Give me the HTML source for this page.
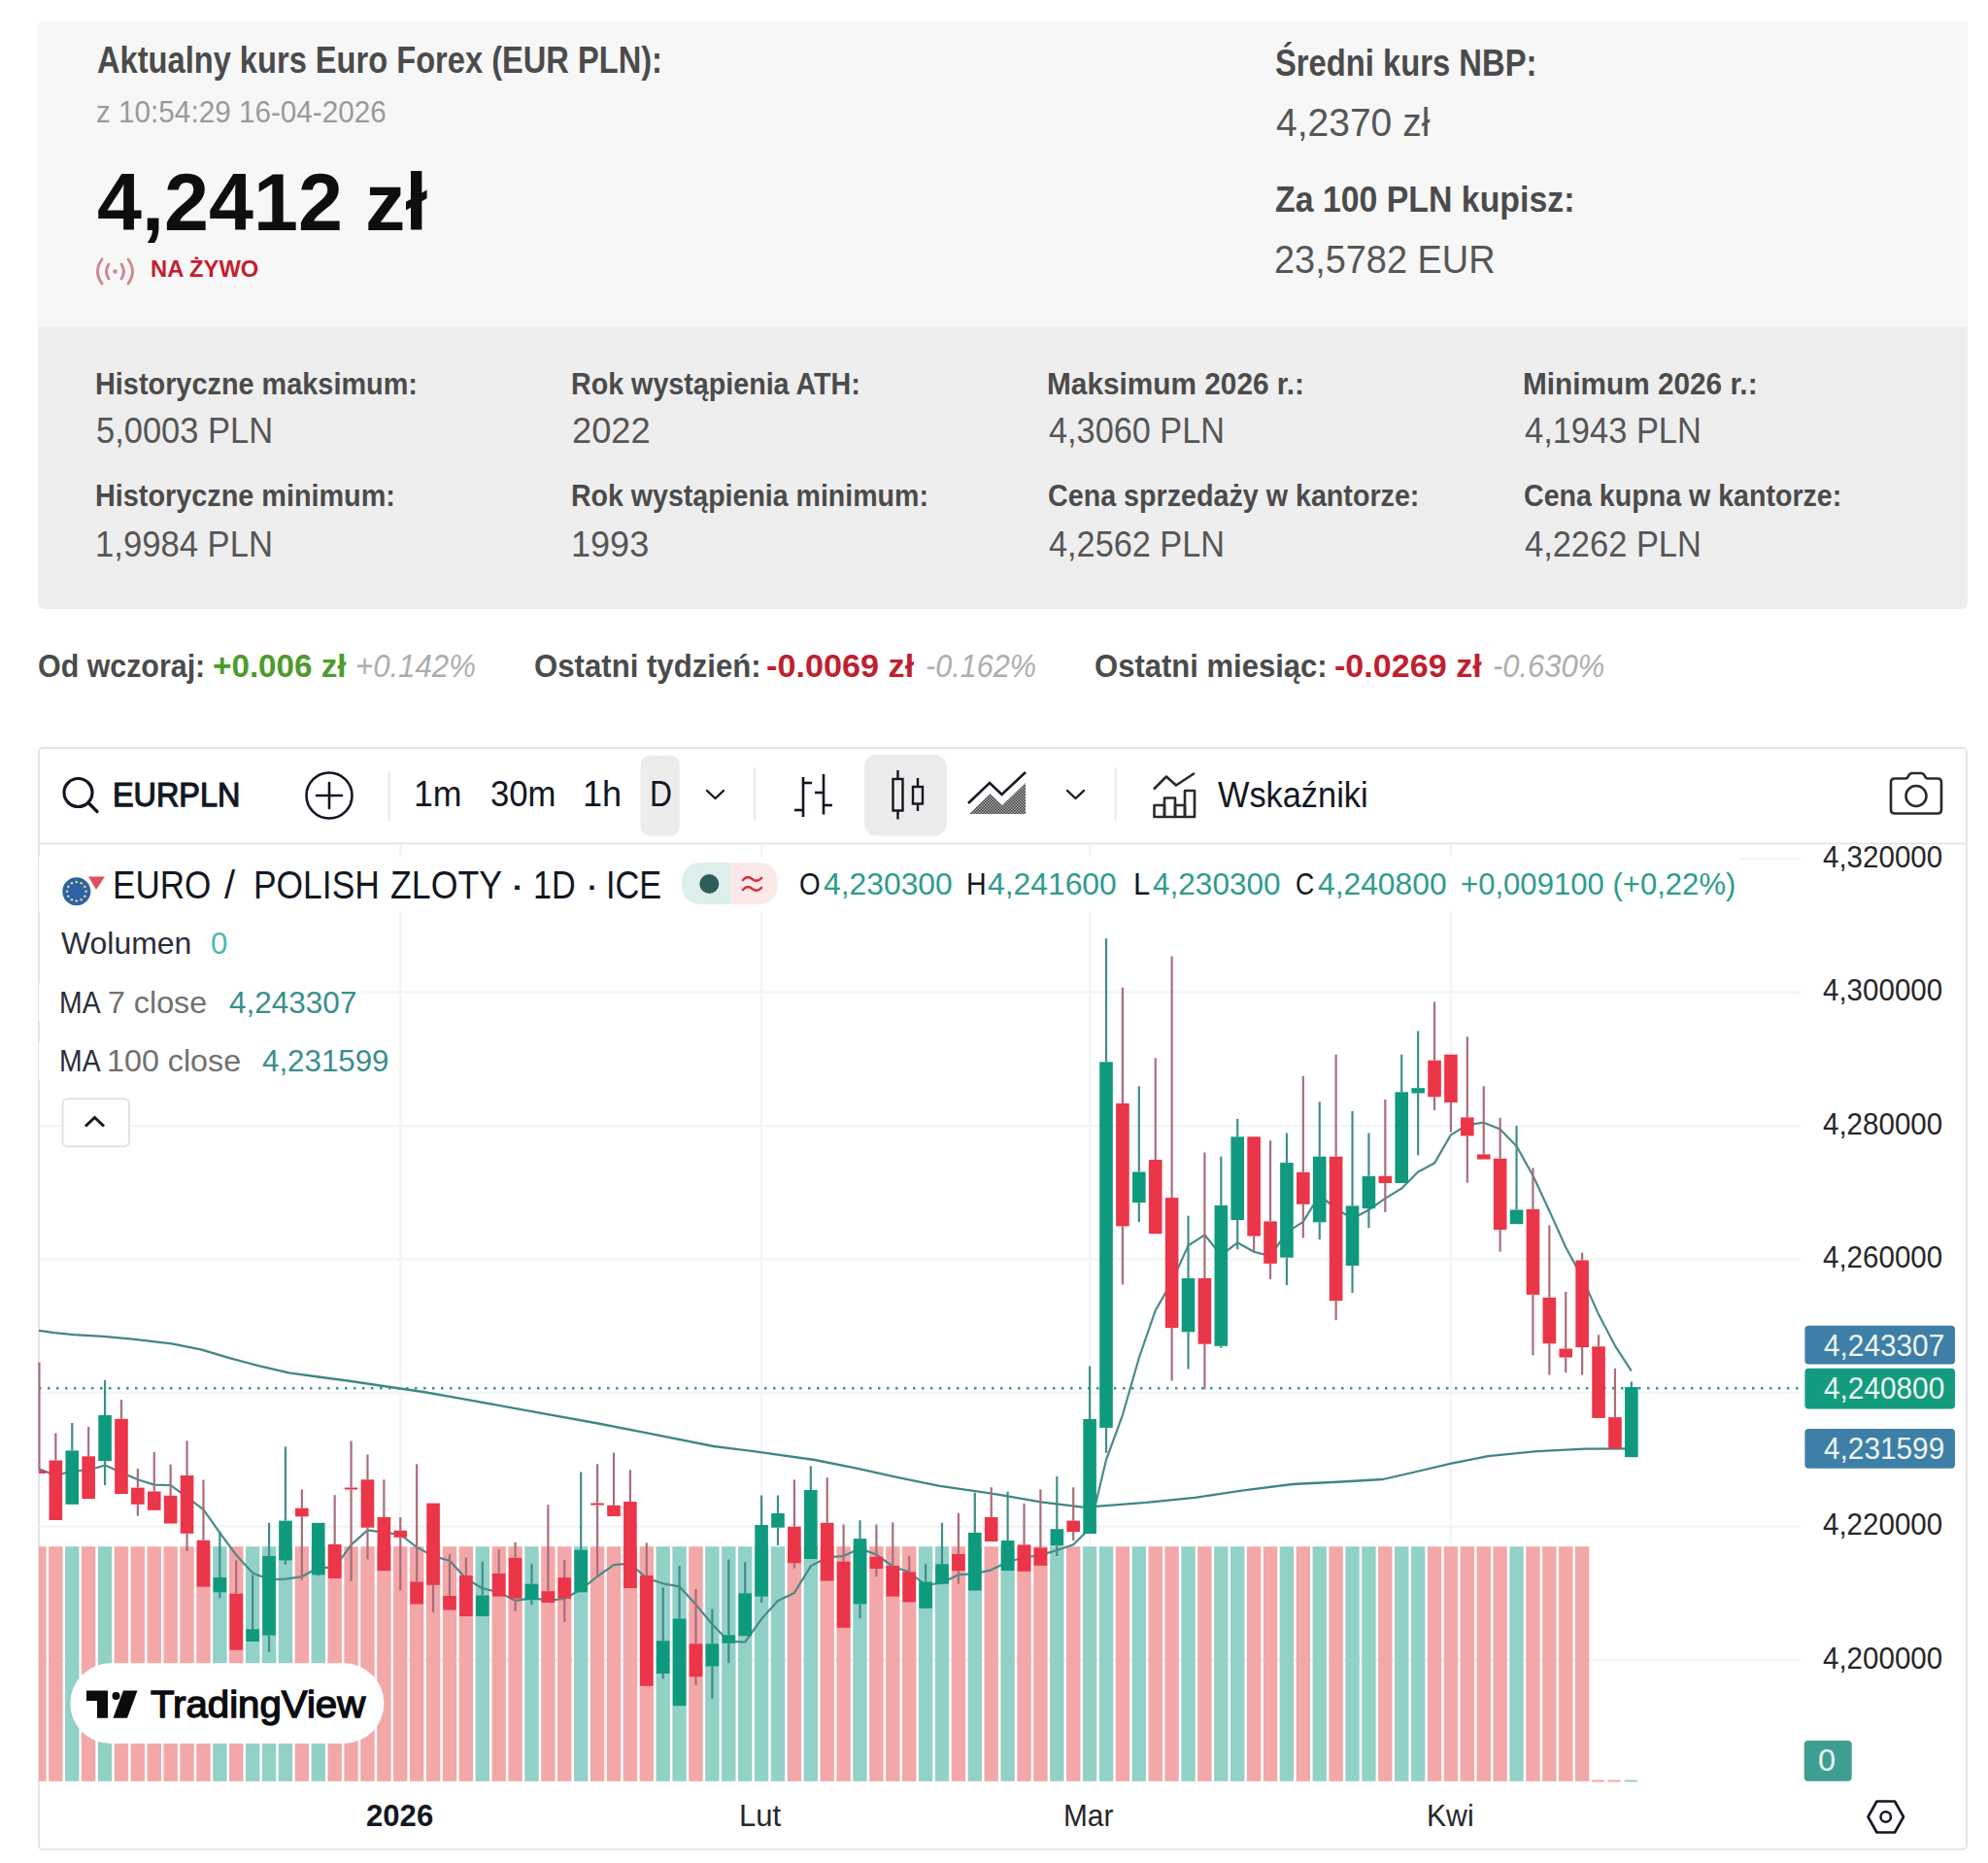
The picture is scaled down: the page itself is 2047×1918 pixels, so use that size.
<!DOCTYPE html><html><head><meta charset="utf-8"><title>EUR PLN</title><style>
html,body{margin:0;padding:0;background:#fff;}
body{width:2047px;height:1918px;position:relative;overflow:hidden;font-family:"Liberation Sans",sans-serif;}
.t{position:absolute;white-space:nowrap;}
.abs{position:absolute;}
</style></head><body>
<div class="abs" style="left:38.5px;top:22px;width:1987px;height:315px;background:#f7f7f7;border-radius:4px 4px 0 0;"></div>
<div class="abs" style="left:38.5px;top:337px;width:1987px;height:289.5px;background:#eeeeee;border-radius:0 0 6px 6px;"></div>
<div class="abs" style="left:38.5px;top:769px;width:1983px;height:1132px;border:2px solid #e4e4e4;border-radius:5px;background:#fff;"></div>
<svg class="abs" style="left:0;top:0" width="2047" height="1918" viewBox="0 0 2047 1918">
<line x1="40" y1="868.5" x2="2024" y2="868.5" stroke="#e6e6e6" stroke-width="2"/>
<line x1="40" y1="884.0" x2="1854" y2="884.0" stroke="#f3f4f5" stroke-width="2.5"/>
<line x1="40" y1="1021.5" x2="1854" y2="1021.5" stroke="#f3f4f5" stroke-width="2.5"/>
<line x1="40" y1="1159.0" x2="1854" y2="1159.0" stroke="#f3f4f5" stroke-width="2.5"/>
<line x1="40" y1="1296.5" x2="1854" y2="1296.5" stroke="#f3f4f5" stroke-width="2.5"/>
<line x1="40" y1="1434.0" x2="1854" y2="1434.0" stroke="#f3f4f5" stroke-width="2.5"/>
<line x1="40" y1="1571.5" x2="1854" y2="1571.5" stroke="#f3f4f5" stroke-width="2.5"/>
<line x1="40" y1="1709.0" x2="1854" y2="1709.0" stroke="#f3f4f5" stroke-width="2.5"/>
<line x1="412.5" y1="869" x2="412.5" y2="1834" stroke="#f3f4f5" stroke-width="2.5"/>
<line x1="784.2" y1="869" x2="784.2" y2="1834" stroke="#f3f4f5" stroke-width="2.5"/>
<line x1="1122.2" y1="869" x2="1122.2" y2="1834" stroke="#f3f4f5" stroke-width="2.5"/>
<line x1="1493.9" y1="869" x2="1493.9" y2="1834" stroke="#f3f4f5" stroke-width="2.5"/>
<rect x="40" y="882" width="1752" height="56" fill="#fff"/>
<rect x="40" y="1012" width="332" height="40" fill="#fff"/>
<rect x="40" y="1072" width="366" height="40" fill="#fff"/>
<rect x="40.00" y="1592.2" width="7.65" height="241.6" fill="#f3a7a9"/>
<rect x="50.15" y="1592.2" width="14.40" height="241.6" fill="#f3a7a9"/>
<rect x="67.05" y="1592.2" width="14.40" height="241.6" fill="#92d1c8"/>
<rect x="83.95" y="1592.2" width="14.40" height="241.6" fill="#f3a7a9"/>
<rect x="100.85" y="1592.2" width="14.40" height="241.6" fill="#92d1c8"/>
<rect x="117.75" y="1592.2" width="14.40" height="241.6" fill="#f3a7a9"/>
<rect x="134.66" y="1592.2" width="14.40" height="241.6" fill="#f3a7a9"/>
<rect x="151.56" y="1592.2" width="14.40" height="241.6" fill="#f3a7a9"/>
<rect x="168.46" y="1592.2" width="14.40" height="241.6" fill="#f3a7a9"/>
<rect x="185.36" y="1592.2" width="14.40" height="241.6" fill="#f3a7a9"/>
<rect x="202.26" y="1592.2" width="14.40" height="241.6" fill="#f3a7a9"/>
<rect x="219.16" y="1592.2" width="14.40" height="241.6" fill="#92d1c8"/>
<rect x="236.06" y="1592.2" width="14.40" height="241.6" fill="#f3a7a9"/>
<rect x="252.96" y="1592.2" width="14.40" height="241.6" fill="#92d1c8"/>
<rect x="269.86" y="1592.2" width="14.40" height="241.6" fill="#92d1c8"/>
<rect x="286.76" y="1592.2" width="14.40" height="241.6" fill="#92d1c8"/>
<rect x="303.67" y="1592.2" width="14.40" height="241.6" fill="#f3a7a9"/>
<rect x="320.57" y="1592.2" width="14.40" height="241.6" fill="#92d1c8"/>
<rect x="337.47" y="1592.2" width="14.40" height="241.6" fill="#f3a7a9"/>
<rect x="354.37" y="1592.2" width="14.40" height="241.6" fill="#f3a7a9"/>
<rect x="371.27" y="1592.2" width="14.40" height="241.6" fill="#f3a7a9"/>
<rect x="388.17" y="1592.2" width="14.40" height="241.6" fill="#f3a7a9"/>
<rect x="405.07" y="1592.2" width="14.40" height="241.6" fill="#f3a7a9"/>
<rect x="421.97" y="1592.2" width="14.40" height="241.6" fill="#f3a7a9"/>
<rect x="438.87" y="1592.2" width="14.40" height="241.6" fill="#f3a7a9"/>
<rect x="455.77" y="1592.2" width="14.40" height="241.6" fill="#f3a7a9"/>
<rect x="472.68" y="1592.2" width="14.40" height="241.6" fill="#f3a7a9"/>
<rect x="489.58" y="1592.2" width="14.40" height="241.6" fill="#92d1c8"/>
<rect x="506.48" y="1592.2" width="14.40" height="241.6" fill="#f3a7a9"/>
<rect x="523.38" y="1592.2" width="14.40" height="241.6" fill="#f3a7a9"/>
<rect x="540.28" y="1592.2" width="14.40" height="241.6" fill="#92d1c8"/>
<rect x="557.18" y="1592.2" width="14.40" height="241.6" fill="#f3a7a9"/>
<rect x="574.08" y="1592.2" width="14.40" height="241.6" fill="#f3a7a9"/>
<rect x="590.98" y="1592.2" width="14.40" height="241.6" fill="#92d1c8"/>
<rect x="607.88" y="1592.2" width="14.40" height="241.6" fill="#f3a7a9"/>
<rect x="624.78" y="1592.2" width="14.40" height="241.6" fill="#f3a7a9"/>
<rect x="641.69" y="1592.2" width="14.40" height="241.6" fill="#f3a7a9"/>
<rect x="658.59" y="1592.2" width="14.40" height="241.6" fill="#f3a7a9"/>
<rect x="675.49" y="1592.2" width="14.40" height="241.6" fill="#92d1c8"/>
<rect x="692.39" y="1592.2" width="14.40" height="241.6" fill="#92d1c8"/>
<rect x="709.29" y="1592.2" width="14.40" height="241.6" fill="#f3a7a9"/>
<rect x="726.19" y="1592.2" width="14.40" height="241.6" fill="#92d1c8"/>
<rect x="743.09" y="1592.2" width="14.40" height="241.6" fill="#92d1c8"/>
<rect x="759.99" y="1592.2" width="14.40" height="241.6" fill="#92d1c8"/>
<rect x="776.89" y="1592.2" width="14.40" height="241.6" fill="#92d1c8"/>
<rect x="793.79" y="1592.2" width="14.40" height="241.6" fill="#92d1c8"/>
<rect x="810.70" y="1592.2" width="14.40" height="241.6" fill="#f3a7a9"/>
<rect x="827.60" y="1592.2" width="14.40" height="241.6" fill="#92d1c8"/>
<rect x="844.50" y="1592.2" width="14.40" height="241.6" fill="#f3a7a9"/>
<rect x="861.40" y="1592.2" width="14.40" height="241.6" fill="#f3a7a9"/>
<rect x="878.30" y="1592.2" width="14.40" height="241.6" fill="#92d1c8"/>
<rect x="895.20" y="1592.2" width="14.40" height="241.6" fill="#f3a7a9"/>
<rect x="912.10" y="1592.2" width="14.40" height="241.6" fill="#f3a7a9"/>
<rect x="929.00" y="1592.2" width="14.40" height="241.6" fill="#f3a7a9"/>
<rect x="945.90" y="1592.2" width="14.40" height="241.6" fill="#92d1c8"/>
<rect x="962.80" y="1592.2" width="14.40" height="241.6" fill="#92d1c8"/>
<rect x="979.71" y="1592.2" width="14.40" height="241.6" fill="#f3a7a9"/>
<rect x="996.61" y="1592.2" width="14.40" height="241.6" fill="#92d1c8"/>
<rect x="1013.51" y="1592.2" width="14.40" height="241.6" fill="#f3a7a9"/>
<rect x="1030.41" y="1592.2" width="14.40" height="241.6" fill="#92d1c8"/>
<rect x="1047.31" y="1592.2" width="14.40" height="241.6" fill="#f3a7a9"/>
<rect x="1064.21" y="1592.2" width="14.40" height="241.6" fill="#f3a7a9"/>
<rect x="1081.11" y="1592.2" width="14.40" height="241.6" fill="#92d1c8"/>
<rect x="1098.01" y="1592.2" width="14.40" height="241.6" fill="#f3a7a9"/>
<rect x="1114.91" y="1592.2" width="14.40" height="241.6" fill="#92d1c8"/>
<rect x="1131.82" y="1592.2" width="14.40" height="241.6" fill="#92d1c8"/>
<rect x="1148.72" y="1592.2" width="14.40" height="241.6" fill="#f3a7a9"/>
<rect x="1165.62" y="1592.2" width="14.40" height="241.6" fill="#92d1c8"/>
<rect x="1182.52" y="1592.2" width="14.40" height="241.6" fill="#f3a7a9"/>
<rect x="1199.42" y="1592.2" width="14.40" height="241.6" fill="#f3a7a9"/>
<rect x="1216.32" y="1592.2" width="14.40" height="241.6" fill="#92d1c8"/>
<rect x="1233.22" y="1592.2" width="14.40" height="241.6" fill="#f3a7a9"/>
<rect x="1250.12" y="1592.2" width="14.40" height="241.6" fill="#92d1c8"/>
<rect x="1267.02" y="1592.2" width="14.40" height="241.6" fill="#92d1c8"/>
<rect x="1283.92" y="1592.2" width="14.40" height="241.6" fill="#f3a7a9"/>
<rect x="1300.83" y="1592.2" width="14.40" height="241.6" fill="#f3a7a9"/>
<rect x="1317.73" y="1592.2" width="14.40" height="241.6" fill="#92d1c8"/>
<rect x="1334.63" y="1592.2" width="14.40" height="241.6" fill="#f3a7a9"/>
<rect x="1351.53" y="1592.2" width="14.40" height="241.6" fill="#92d1c8"/>
<rect x="1368.43" y="1592.2" width="14.40" height="241.6" fill="#f3a7a9"/>
<rect x="1385.33" y="1592.2" width="14.40" height="241.6" fill="#92d1c8"/>
<rect x="1402.23" y="1592.2" width="14.40" height="241.6" fill="#92d1c8"/>
<rect x="1419.13" y="1592.2" width="14.40" height="241.6" fill="#f3a7a9"/>
<rect x="1436.03" y="1592.2" width="14.40" height="241.6" fill="#92d1c8"/>
<rect x="1452.93" y="1592.2" width="14.40" height="241.6" fill="#92d1c8"/>
<rect x="1469.84" y="1592.2" width="14.40" height="241.6" fill="#f3a7a9"/>
<rect x="1486.74" y="1592.2" width="14.40" height="241.6" fill="#f3a7a9"/>
<rect x="1503.64" y="1592.2" width="14.40" height="241.6" fill="#f3a7a9"/>
<rect x="1520.54" y="1592.2" width="14.40" height="241.6" fill="#f3a7a9"/>
<rect x="1537.44" y="1592.2" width="14.40" height="241.6" fill="#f3a7a9"/>
<rect x="1554.34" y="1592.2" width="14.40" height="241.6" fill="#92d1c8"/>
<rect x="1571.24" y="1592.2" width="14.40" height="241.6" fill="#f3a7a9"/>
<rect x="1588.14" y="1592.2" width="14.40" height="241.6" fill="#f3a7a9"/>
<rect x="1605.04" y="1592.2" width="14.40" height="241.6" fill="#f3a7a9"/>
<rect x="1621.94" y="1592.2" width="14.40" height="241.6" fill="#f3a7a9"/>
<rect x="1638.85" y="1832.5" width="13.00" height="2" fill="#f3a7a9"/>
<rect x="1655.75" y="1832.5" width="13.00" height="2" fill="#f3a7a9"/>
<rect x="1672.65" y="1832.5" width="13.00" height="2" fill="#92d1c8"/>
<line x1="40" y1="1429.3" x2="1854" y2="1429.3" stroke="#2a9d8a" stroke-width="2.5" stroke-dasharray="2.5 6.5"/>
<polyline points="40.0,1369.8 56.1,1372.2 76.2,1374.2 106.4,1375.8 136.6,1378.6 176.8,1383.3 207.0,1389.3 237.2,1398.4 267.4,1406.4 297.6,1413.4 327.7,1417.5 358.0,1421.5 398.2,1427.5 436.0,1433.0 480.4,1440.8 544.8,1452.6 616.0,1465.5 670.4,1476.2 734.8,1489.0 777.7,1494.4 838.9,1503.0 881.8,1511.6 924.8,1521.2 967.7,1529.8 1028.9,1538.8 1071.8,1546.3 1114.8,1551.7 1131.9,1550.6 1180.0,1546.9 1230.3,1541.9 1280.6,1534.3 1330.9,1528.0 1381.2,1525.5 1424.0,1523.0 1456.7,1515.5 1494.4,1506.6 1532.1,1499.1 1582.4,1494.1 1632.7,1491.6 1680.0,1491.3" fill="none" stroke="#3f8684" stroke-width="2.3" stroke-linejoin="round"/>
<polyline points="40.5,1512.5 57.4,1519.0 74.3,1514.5 91.2,1513.5 108.1,1508.5 125.0,1516.0 141.9,1523.2 158.8,1528.6 175.7,1529.1 192.6,1541.3 209.5,1554.2 226.4,1578.1 243.3,1601.0 260.2,1619.4 277.1,1626.1 294.0,1625.7 310.9,1623.2 327.8,1613.8 344.7,1613.9 361.6,1590.3 378.5,1575.4 395.4,1577.6 412.3,1580.0 429.2,1592.9 446.1,1602.1 463.0,1606.7 479.9,1625.3 496.8,1635.3 513.7,1639.1 530.6,1648.1 547.5,1645.1 564.4,1647.7 581.3,1646.0 598.2,1636.3 615.1,1623.0 632.0,1611.2 648.9,1609.7 665.8,1624.7 682.7,1630.3 699.6,1633.3 716.5,1651.9 733.4,1672.3 750.3,1689.8 767.2,1690.5 784.1,1666.8 801.0,1648.1 817.9,1639.9 834.8,1612.4 851.7,1603.2 868.6,1602.1 885.5,1594.1 902.4,1600.5 919.3,1612.7 936.2,1618.5 953.1,1632.0 970.0,1629.5 986.9,1621.2 1003.8,1620.3 1020.7,1616.3 1037.6,1608.0 1054.5,1603.5 1071.4,1601.1 1088.3,1596.0 1105.2,1590.2 1122.1,1573.5 1139.0,1503.0 1155.9,1456.8 1172.8,1398.0 1189.7,1349.2 1206.6,1319.6 1223.5,1282.4 1240.4,1271.3 1257.3,1292.4 1274.2,1279.3 1291.1,1288.7 1308.0,1293.1 1324.9,1268.8 1341.8,1257.9 1358.7,1230.3 1375.6,1244.4 1392.5,1254.5 1409.4,1245.7 1426.3,1233.9 1443.2,1223.5 1460.1,1206.4 1477.0,1197.6 1493.9,1168.4 1510.8,1158.1 1527.7,1155.7 1544.6,1162.5 1561.5,1179.9 1578.4,1210.2 1595.3,1246.5 1612.2,1284.0 1629.1,1315.1 1646.0,1353.1 1662.9,1385.3 1679.8,1411.4" fill="none" stroke="#4a8a89" stroke-width="2.2" stroke-linejoin="round"/>
<rect x="39.35" y="1402.60" width="2.2" height="111.40" fill="#a86e79"/>
<rect x="40.00" y="1514.00" width="7.25" height="3.00" fill="#eb3548"/>
<rect x="56.25" y="1475.40" width="2.2" height="28.10" fill="#a86e79"/>
<rect x="50.55" y="1503.50" width="13.60" height="61.50" fill="#eb3548"/>
<rect x="73.15" y="1465.00" width="2.2" height="28.40" fill="#3f8f86"/>
<rect x="67.45" y="1493.40" width="13.60" height="55.40" fill="#0f9a7e"/>
<rect x="90.05" y="1469.00" width="2.2" height="30.30" fill="#a86e79"/>
<rect x="84.35" y="1499.30" width="13.60" height="43.70" fill="#eb3548"/>
<rect x="106.95" y="1421.00" width="2.2" height="36.00" fill="#3f8f86"/>
<rect x="106.95" y="1504.20" width="2.2" height="24.80" fill="#3f8f86"/>
<rect x="101.25" y="1457.00" width="13.60" height="47.20" fill="#0f9a7e"/>
<rect x="123.86" y="1441.00" width="2.2" height="19.80" fill="#a86e79"/>
<rect x="118.16" y="1460.80" width="13.60" height="77.20" fill="#eb3548"/>
<rect x="140.76" y="1512.00" width="2.2" height="19.60" fill="#a86e79"/>
<rect x="140.76" y="1548.80" width="2.2" height="11.80" fill="#a86e79"/>
<rect x="135.06" y="1531.60" width="13.60" height="17.20" fill="#eb3548"/>
<rect x="157.66" y="1495.00" width="2.2" height="40.50" fill="#a86e79"/>
<rect x="151.96" y="1535.50" width="13.60" height="19.30" fill="#eb3548"/>
<rect x="174.56" y="1507.60" width="2.2" height="32.20" fill="#a86e79"/>
<rect x="168.86" y="1539.80" width="13.60" height="28.70" fill="#eb3548"/>
<rect x="191.46" y="1483.30" width="2.2" height="35.70" fill="#a86e79"/>
<rect x="191.46" y="1578.80" width="2.2" height="18.20" fill="#a86e79"/>
<rect x="185.76" y="1519.00" width="13.60" height="59.80" fill="#eb3548"/>
<rect x="208.36" y="1523.50" width="2.2" height="62.20" fill="#a86e79"/>
<rect x="202.66" y="1585.70" width="13.60" height="47.90" fill="#eb3548"/>
<rect x="225.26" y="1576.70" width="2.2" height="47.30" fill="#3f8f86"/>
<rect x="225.26" y="1639.30" width="2.2" height="6.10" fill="#3f8f86"/>
<rect x="219.56" y="1624.00" width="13.60" height="15.30" fill="#0f9a7e"/>
<rect x="242.16" y="1606.40" width="2.2" height="34.30" fill="#a86e79"/>
<rect x="236.46" y="1640.70" width="13.60" height="58.00" fill="#eb3548"/>
<rect x="259.06" y="1621.40" width="2.2" height="55.80" fill="#3f8f86"/>
<rect x="253.36" y="1677.20" width="13.60" height="12.80" fill="#0f9a7e"/>
<rect x="275.96" y="1567.80" width="2.2" height="34.20" fill="#3f8f86"/>
<rect x="275.96" y="1683.60" width="2.2" height="17.20" fill="#3f8f86"/>
<rect x="270.26" y="1602.00" width="13.60" height="81.60" fill="#0f9a7e"/>
<rect x="292.86" y="1489.40" width="2.2" height="76.20" fill="#3f8f86"/>
<rect x="292.86" y="1606.40" width="2.2" height="4.30" fill="#3f8f86"/>
<rect x="287.16" y="1565.60" width="13.60" height="40.80" fill="#0f9a7e"/>
<rect x="309.77" y="1533.40" width="2.2" height="19.30" fill="#a86e79"/>
<rect x="309.77" y="1561.30" width="2.2" height="65.50" fill="#a86e79"/>
<rect x="304.07" y="1552.70" width="13.60" height="8.60" fill="#eb3548"/>
<rect x="326.67" y="1621.40" width="2.2" height="1.10" fill="#3f8f86"/>
<rect x="320.97" y="1567.80" width="13.60" height="53.60" fill="#0f9a7e"/>
<rect x="343.57" y="1539.20" width="2.2" height="50.70" fill="#a86e79"/>
<rect x="337.87" y="1589.90" width="13.60" height="35.10" fill="#eb3548"/>
<rect x="360.47" y="1483.40" width="2.2" height="48.10" fill="#a86e79"/>
<rect x="360.47" y="1533.50" width="2.2" height="94.40" fill="#a86e79"/>
<rect x="354.77" y="1531.50" width="13.60" height="2.00" fill="#eb3548"/>
<rect x="377.37" y="1497.60" width="2.2" height="25.70" fill="#a86e79"/>
<rect x="377.37" y="1572.70" width="2.2" height="32.60" fill="#a86e79"/>
<rect x="371.67" y="1523.30" width="13.60" height="49.40" fill="#eb3548"/>
<rect x="394.27" y="1523.30" width="2.2" height="38.70" fill="#a86e79"/>
<rect x="388.57" y="1562.00" width="13.60" height="55.10" fill="#eb3548"/>
<rect x="411.17" y="1562.00" width="2.2" height="13.70" fill="#a86e79"/>
<rect x="411.17" y="1582.80" width="2.2" height="54.70" fill="#a86e79"/>
<rect x="405.47" y="1575.70" width="13.60" height="7.10" fill="#eb3548"/>
<rect x="428.07" y="1507.30" width="2.2" height="121.20" fill="#a86e79"/>
<rect x="422.37" y="1628.50" width="13.60" height="23.00" fill="#eb3548"/>
<rect x="444.97" y="1631.80" width="2.2" height="28.20" fill="#a86e79"/>
<rect x="439.27" y="1547.60" width="13.60" height="84.20" fill="#eb3548"/>
<rect x="461.87" y="1600.00" width="2.2" height="43.00" fill="#a86e79"/>
<rect x="456.17" y="1643.00" width="13.60" height="14.50" fill="#eb3548"/>
<rect x="478.78" y="1603.40" width="2.2" height="18.60" fill="#a86e79"/>
<rect x="473.08" y="1622.00" width="13.60" height="42.00" fill="#eb3548"/>
<rect x="495.68" y="1607.70" width="2.2" height="34.80" fill="#3f8f86"/>
<rect x="489.98" y="1642.50" width="13.60" height="21.50" fill="#0f9a7e"/>
<rect x="512.58" y="1595.30" width="2.2" height="24.70" fill="#a86e79"/>
<rect x="506.88" y="1620.00" width="13.60" height="23.60" fill="#eb3548"/>
<rect x="529.48" y="1587.80" width="2.2" height="16.10" fill="#a86e79"/>
<rect x="529.48" y="1645.70" width="2.2" height="12.90" fill="#a86e79"/>
<rect x="523.78" y="1603.90" width="13.60" height="41.80" fill="#eb3548"/>
<rect x="546.38" y="1610.30" width="2.2" height="20.40" fill="#3f8f86"/>
<rect x="546.38" y="1647.20" width="2.2" height="4.90" fill="#3f8f86"/>
<rect x="540.68" y="1630.70" width="13.60" height="16.50" fill="#0f9a7e"/>
<rect x="563.28" y="1549.10" width="2.2" height="89.10" fill="#a86e79"/>
<rect x="557.58" y="1638.20" width="13.60" height="11.80" fill="#eb3548"/>
<rect x="580.18" y="1606.00" width="2.2" height="18.20" fill="#a86e79"/>
<rect x="580.18" y="1645.70" width="2.2" height="24.30" fill="#a86e79"/>
<rect x="574.48" y="1624.20" width="13.60" height="21.50" fill="#eb3548"/>
<rect x="597.08" y="1515.50" width="2.2" height="80.20" fill="#3f8f86"/>
<rect x="591.38" y="1595.70" width="13.60" height="43.60" fill="#0f9a7e"/>
<rect x="613.98" y="1507.30" width="2.2" height="40.20" fill="#a86e79"/>
<rect x="613.98" y="1549.50" width="2.2" height="73.50" fill="#a86e79"/>
<rect x="608.28" y="1547.50" width="13.60" height="2.00" fill="#eb3548"/>
<rect x="630.88" y="1495.50" width="2.2" height="54.30" fill="#a86e79"/>
<rect x="625.19" y="1549.80" width="13.60" height="11.20" fill="#eb3548"/>
<rect x="647.79" y="1513.30" width="2.2" height="32.70" fill="#a86e79"/>
<rect x="642.09" y="1546.00" width="13.60" height="89.00" fill="#eb3548"/>
<rect x="664.69" y="1588.40" width="2.2" height="33.60" fill="#a86e79"/>
<rect x="658.99" y="1622.00" width="13.60" height="113.80" fill="#eb3548"/>
<rect x="681.59" y="1634.30" width="2.2" height="55.00" fill="#3f8f86"/>
<rect x="681.59" y="1723.00" width="2.2" height="5.30" fill="#3f8f86"/>
<rect x="675.89" y="1689.30" width="13.60" height="33.70" fill="#0f9a7e"/>
<rect x="698.49" y="1612.00" width="2.2" height="54.50" fill="#3f8f86"/>
<rect x="692.79" y="1666.50" width="13.60" height="89.70" fill="#0f9a7e"/>
<rect x="715.39" y="1636.00" width="2.2" height="56.30" fill="#a86e79"/>
<rect x="715.39" y="1726.20" width="2.2" height="8.60" fill="#a86e79"/>
<rect x="709.69" y="1692.30" width="13.60" height="33.90" fill="#eb3548"/>
<rect x="732.29" y="1656.40" width="2.2" height="35.90" fill="#3f8f86"/>
<rect x="732.29" y="1715.50" width="2.2" height="33.20" fill="#3f8f86"/>
<rect x="726.59" y="1692.30" width="13.60" height="23.20" fill="#0f9a7e"/>
<rect x="749.19" y="1605.60" width="2.2" height="77.70" fill="#3f8f86"/>
<rect x="749.19" y="1691.80" width="2.2" height="20.40" fill="#3f8f86"/>
<rect x="743.49" y="1683.30" width="13.60" height="8.50" fill="#0f9a7e"/>
<rect x="766.09" y="1608.20" width="2.2" height="32.10" fill="#3f8f86"/>
<rect x="760.39" y="1640.30" width="13.60" height="44.00" fill="#0f9a7e"/>
<rect x="782.99" y="1539.50" width="2.2" height="30.50" fill="#3f8f86"/>
<rect x="782.99" y="1643.60" width="2.2" height="6.40" fill="#3f8f86"/>
<rect x="777.29" y="1570.00" width="13.60" height="73.60" fill="#0f9a7e"/>
<rect x="799.89" y="1539.50" width="2.2" height="18.50" fill="#3f8f86"/>
<rect x="799.89" y="1572.70" width="2.2" height="18.30" fill="#3f8f86"/>
<rect x="794.20" y="1558.00" width="13.60" height="14.70" fill="#0f9a7e"/>
<rect x="816.80" y="1523.40" width="2.2" height="48.30" fill="#a86e79"/>
<rect x="816.80" y="1609.20" width="2.2" height="5.40" fill="#a86e79"/>
<rect x="811.10" y="1571.70" width="13.60" height="37.50" fill="#eb3548"/>
<rect x="833.70" y="1509.40" width="2.2" height="24.60" fill="#3f8f86"/>
<rect x="828.00" y="1534.00" width="13.60" height="71.00" fill="#0f9a7e"/>
<rect x="850.60" y="1521.20" width="2.2" height="46.60" fill="#a86e79"/>
<rect x="844.90" y="1567.80" width="13.60" height="59.70" fill="#eb3548"/>
<rect x="867.50" y="1569.50" width="2.2" height="38.20" fill="#a86e79"/>
<rect x="861.80" y="1607.70" width="13.60" height="68.10" fill="#eb3548"/>
<rect x="884.40" y="1565.20" width="2.2" height="18.90" fill="#3f8f86"/>
<rect x="884.40" y="1651.50" width="2.2" height="14.60" fill="#3f8f86"/>
<rect x="878.70" y="1584.10" width="13.60" height="67.40" fill="#0f9a7e"/>
<rect x="901.30" y="1569.50" width="2.2" height="33.30" fill="#a86e79"/>
<rect x="901.30" y="1615.00" width="2.2" height="8.20" fill="#a86e79"/>
<rect x="895.60" y="1602.80" width="13.60" height="12.20" fill="#eb3548"/>
<rect x="918.20" y="1567.40" width="2.2" height="44.60" fill="#a86e79"/>
<rect x="912.50" y="1612.00" width="13.60" height="31.60" fill="#eb3548"/>
<rect x="935.10" y="1601.70" width="2.2" height="16.80" fill="#a86e79"/>
<rect x="929.40" y="1618.50" width="13.60" height="30.90" fill="#eb3548"/>
<rect x="952.00" y="1610.30" width="2.2" height="18.20" fill="#3f8f86"/>
<rect x="946.30" y="1628.50" width="13.60" height="27.30" fill="#0f9a7e"/>
<rect x="968.90" y="1567.80" width="2.2" height="42.50" fill="#3f8f86"/>
<rect x="963.21" y="1610.30" width="13.60" height="20.40" fill="#0f9a7e"/>
<rect x="985.81" y="1557.70" width="2.2" height="42.30" fill="#a86e79"/>
<rect x="985.81" y="1617.20" width="2.2" height="13.50" fill="#a86e79"/>
<rect x="980.11" y="1600.00" width="13.60" height="17.20" fill="#eb3548"/>
<rect x="1002.71" y="1536.70" width="2.2" height="41.20" fill="#3f8f86"/>
<rect x="997.01" y="1577.90" width="13.60" height="59.60" fill="#0f9a7e"/>
<rect x="1019.61" y="1531.30" width="2.2" height="30.70" fill="#a86e79"/>
<rect x="1013.91" y="1562.00" width="13.60" height="25.00" fill="#eb3548"/>
<rect x="1036.51" y="1535.60" width="2.2" height="50.40" fill="#3f8f86"/>
<rect x="1030.81" y="1586.00" width="13.60" height="31.10" fill="#0f9a7e"/>
<rect x="1053.41" y="1547.80" width="2.2" height="42.50" fill="#a86e79"/>
<rect x="1047.71" y="1590.30" width="13.60" height="27.50" fill="#eb3548"/>
<rect x="1070.31" y="1533.40" width="2.2" height="60.10" fill="#a86e79"/>
<rect x="1064.61" y="1593.50" width="13.60" height="18.30" fill="#eb3548"/>
<rect x="1087.21" y="1520.00" width="2.2" height="54.20" fill="#3f8f86"/>
<rect x="1087.21" y="1591.40" width="2.2" height="10.60" fill="#3f8f86"/>
<rect x="1081.51" y="1574.20" width="13.60" height="17.20" fill="#0f9a7e"/>
<rect x="1104.11" y="1531.30" width="2.2" height="34.30" fill="#a86e79"/>
<rect x="1104.11" y="1577.00" width="2.2" height="9.00" fill="#a86e79"/>
<rect x="1098.41" y="1565.60" width="13.60" height="11.40" fill="#eb3548"/>
<rect x="1121.01" y="1406.50" width="2.2" height="54.50" fill="#3f8f86"/>
<rect x="1115.31" y="1461.00" width="13.60" height="118.10" fill="#0f9a7e"/>
<rect x="1137.92" y="966.10" width="2.2" height="127.20" fill="#3f8f86"/>
<rect x="1137.92" y="1469.90" width="2.2" height="26.00" fill="#3f8f86"/>
<rect x="1132.22" y="1093.30" width="13.60" height="376.60" fill="#0f9a7e"/>
<rect x="1154.82" y="1016.80" width="2.2" height="119.20" fill="#a86e79"/>
<rect x="1154.82" y="1262.40" width="2.2" height="60.10" fill="#a86e79"/>
<rect x="1149.12" y="1136.00" width="13.60" height="126.40" fill="#eb3548"/>
<rect x="1171.72" y="1118.30" width="2.2" height="88.20" fill="#3f8f86"/>
<rect x="1171.72" y="1238.10" width="2.2" height="20.00" fill="#3f8f86"/>
<rect x="1166.02" y="1206.50" width="13.60" height="31.60" fill="#0f9a7e"/>
<rect x="1188.62" y="1089.30" width="2.2" height="104.70" fill="#a86e79"/>
<rect x="1182.92" y="1194.00" width="13.60" height="76.20" fill="#eb3548"/>
<rect x="1205.52" y="984.60" width="2.2" height="248.50" fill="#a86e79"/>
<rect x="1205.52" y="1367.10" width="2.2" height="54.40" fill="#a86e79"/>
<rect x="1199.82" y="1233.10" width="13.60" height="134.00" fill="#eb3548"/>
<rect x="1222.42" y="1251.70" width="2.2" height="64.30" fill="#3f8f86"/>
<rect x="1222.42" y="1371.30" width="2.2" height="38.20" fill="#3f8f86"/>
<rect x="1216.72" y="1316.00" width="13.60" height="55.30" fill="#0f9a7e"/>
<rect x="1239.32" y="1186.50" width="2.2" height="129.50" fill="#a86e79"/>
<rect x="1239.32" y="1383.70" width="2.2" height="46.70" fill="#a86e79"/>
<rect x="1233.62" y="1316.00" width="13.60" height="67.70" fill="#eb3548"/>
<rect x="1256.22" y="1190.60" width="2.2" height="50.40" fill="#3f8f86"/>
<rect x="1256.22" y="1385.80" width="2.2" height="1.90" fill="#3f8f86"/>
<rect x="1250.52" y="1241.00" width="13.60" height="144.80" fill="#0f9a7e"/>
<rect x="1273.12" y="1152.00" width="2.2" height="18.30" fill="#3f8f86"/>
<rect x="1273.12" y="1256.00" width="2.2" height="30.30" fill="#3f8f86"/>
<rect x="1267.42" y="1170.30" width="13.60" height="85.70" fill="#0f9a7e"/>
<rect x="1290.02" y="1272.60" width="2.2" height="15.30" fill="#a86e79"/>
<rect x="1284.32" y="1170.30" width="13.60" height="102.30" fill="#eb3548"/>
<rect x="1306.93" y="1174.20" width="2.2" height="83.20" fill="#a86e79"/>
<rect x="1306.93" y="1300.90" width="2.2" height="16.10" fill="#a86e79"/>
<rect x="1301.23" y="1257.40" width="13.60" height="43.50" fill="#eb3548"/>
<rect x="1323.83" y="1166.50" width="2.2" height="30.60" fill="#3f8f86"/>
<rect x="1323.83" y="1294.70" width="2.2" height="28.30" fill="#3f8f86"/>
<rect x="1318.13" y="1197.10" width="13.60" height="97.60" fill="#0f9a7e"/>
<rect x="1340.73" y="1107.80" width="2.2" height="99.00" fill="#a86e79"/>
<rect x="1340.73" y="1239.80" width="2.2" height="34.60" fill="#a86e79"/>
<rect x="1335.03" y="1206.80" width="13.60" height="33.00" fill="#eb3548"/>
<rect x="1357.63" y="1134.30" width="2.2" height="56.40" fill="#3f8f86"/>
<rect x="1357.63" y="1258.30" width="2.2" height="17.80" fill="#3f8f86"/>
<rect x="1351.93" y="1190.70" width="13.60" height="67.60" fill="#0f9a7e"/>
<rect x="1374.53" y="1085.70" width="2.2" height="105.00" fill="#a86e79"/>
<rect x="1374.53" y="1339.20" width="2.2" height="20.00" fill="#a86e79"/>
<rect x="1368.83" y="1190.70" width="13.60" height="148.50" fill="#eb3548"/>
<rect x="1391.43" y="1144.00" width="2.2" height="97.40" fill="#3f8f86"/>
<rect x="1391.43" y="1303.00" width="2.2" height="28.00" fill="#3f8f86"/>
<rect x="1385.73" y="1241.40" width="13.60" height="61.60" fill="#0f9a7e"/>
<rect x="1408.33" y="1166.50" width="2.2" height="44.30" fill="#3f8f86"/>
<rect x="1408.33" y="1244.20" width="2.2" height="20.00" fill="#3f8f86"/>
<rect x="1402.63" y="1210.80" width="13.60" height="33.40" fill="#0f9a7e"/>
<rect x="1425.23" y="1132.00" width="2.2" height="78.80" fill="#a86e79"/>
<rect x="1425.23" y="1218.00" width="2.2" height="29.90" fill="#a86e79"/>
<rect x="1419.53" y="1210.80" width="13.60" height="7.20" fill="#eb3548"/>
<rect x="1442.13" y="1085.70" width="2.2" height="38.60" fill="#3f8f86"/>
<rect x="1436.43" y="1124.30" width="13.60" height="93.70" fill="#0f9a7e"/>
<rect x="1459.03" y="1061.50" width="2.2" height="58.70" fill="#3f8f86"/>
<rect x="1459.03" y="1125.50" width="2.2" height="63.90" fill="#3f8f86"/>
<rect x="1453.33" y="1120.20" width="13.60" height="5.30" fill="#0f9a7e"/>
<rect x="1475.94" y="1031.30" width="2.2" height="60.40" fill="#a86e79"/>
<rect x="1475.94" y="1129.30" width="2.2" height="13.90" fill="#a86e79"/>
<rect x="1470.24" y="1091.70" width="13.60" height="37.60" fill="#eb3548"/>
<rect x="1492.84" y="1135.00" width="2.2" height="30.40" fill="#a86e79"/>
<rect x="1487.14" y="1085.70" width="13.60" height="49.30" fill="#eb3548"/>
<rect x="1509.74" y="1067.20" width="2.2" height="83.20" fill="#a86e79"/>
<rect x="1509.74" y="1169.40" width="2.2" height="48.30" fill="#a86e79"/>
<rect x="1504.04" y="1150.40" width="13.60" height="19.00" fill="#eb3548"/>
<rect x="1526.64" y="1118.20" width="2.2" height="70.20" fill="#a86e79"/>
<rect x="1520.94" y="1188.40" width="13.60" height="5.20" fill="#eb3548"/>
<rect x="1543.54" y="1150.90" width="2.2" height="41.90" fill="#a86e79"/>
<rect x="1543.54" y="1266.00" width="2.2" height="22.60" fill="#a86e79"/>
<rect x="1537.84" y="1192.80" width="13.60" height="73.20" fill="#eb3548"/>
<rect x="1560.44" y="1159.00" width="2.2" height="86.50" fill="#3f8f86"/>
<rect x="1554.74" y="1245.50" width="13.60" height="14.70" fill="#0f9a7e"/>
<rect x="1577.34" y="1202.40" width="2.2" height="42.60" fill="#a86e79"/>
<rect x="1577.34" y="1332.90" width="2.2" height="62.40" fill="#a86e79"/>
<rect x="1571.64" y="1245.00" width="13.60" height="87.90" fill="#eb3548"/>
<rect x="1594.24" y="1261.40" width="2.2" height="74.50" fill="#a86e79"/>
<rect x="1594.24" y="1383.20" width="2.2" height="32.30" fill="#a86e79"/>
<rect x="1588.54" y="1335.90" width="13.60" height="47.30" fill="#eb3548"/>
<rect x="1611.14" y="1329.90" width="2.2" height="58.60" fill="#a86e79"/>
<rect x="1611.14" y="1397.50" width="2.2" height="15.80" fill="#a86e79"/>
<rect x="1605.44" y="1388.50" width="13.60" height="9.00" fill="#eb3548"/>
<rect x="1628.04" y="1289.70" width="2.2" height="7.80" fill="#a86e79"/>
<rect x="1628.04" y="1387.00" width="2.2" height="28.50" fill="#a86e79"/>
<rect x="1622.34" y="1297.50" width="13.60" height="89.50" fill="#eb3548"/>
<rect x="1644.95" y="1374.20" width="2.2" height="12.10" fill="#a86e79"/>
<rect x="1639.25" y="1386.30" width="13.60" height="73.60" fill="#eb3548"/>
<rect x="1661.85" y="1408.80" width="2.2" height="50.30" fill="#a86e79"/>
<rect x="1656.15" y="1459.10" width="13.60" height="32.30" fill="#eb3548"/>
<rect x="1678.75" y="1422.50" width="2.2" height="5.50" fill="#3f8f86"/>
<rect x="1673.05" y="1428.00" width="13.60" height="72.20" fill="#0f9a7e"/>

<!-- live icon -->
<g fill="none" stroke="#cf8890" stroke-width="2.9" stroke-linecap="round">
<path d="M105 267 Q96 279.5 105 292"/><path d="M112 272 Q107 279.5 112 287"/>
<path d="M132 267 Q141 279.5 132 292"/><path d="M125 272 Q130 279.5 125 287"/>
</g><circle cx="118.5" cy="279.5" r="2.3" fill="#cf8890"/>
<!-- search -->
<g fill="none" stroke="#131722" stroke-width="3.2" stroke-linecap="round">
<circle cx="80.5" cy="816" r="14.5"/><line x1="91" y1="826.5" x2="100" y2="835.5"/>
</g>
<!-- plus -->
<g fill="none" stroke="#131722" stroke-width="2.6" stroke-linecap="round">
<circle cx="339" cy="819" r="23.5"/><line x1="339" y1="806" x2="339" y2="832"/><line x1="326" y1="819" x2="352" y2="819"/>
</g>
<!-- separators -->
<line x1="400.7" y1="794" x2="400.7" y2="845.5" stroke="#e9e9e9" stroke-width="2"/>
<line x1="777" y1="790" x2="777" y2="845" stroke="#e9e9e9" stroke-width="2"/>
<line x1="1148.6" y1="790" x2="1148.6" y2="845" stroke="#e9e9e9" stroke-width="2"/>
<!-- D bg -->
<rect x="659.6" y="778" width="40.2" height="82.5" rx="9" fill="#ececec"/>
<!-- chevrons -->
<g fill="none" stroke="#131722" stroke-width="2.4" stroke-linecap="round" stroke-linejoin="round">
<polyline points="728,814 736.5,822 745,814"/>
<polyline points="1099,814 1107.5,822 1116,814"/>
</g>
<!-- bars icon -->
<g fill="none" stroke="#131722" stroke-width="2.6">
<line x1="827" y1="800" x2="827" y2="841"/><line x1="827" y1="806" x2="836" y2="806"/><line x1="818" y1="834" x2="827" y2="834"/>
<line x1="848" y1="797" x2="848" y2="838.5"/><line x1="839" y1="816" x2="848" y2="816"/><line x1="848" y1="829" x2="857" y2="829"/>
</g>
<!-- candle icon -->
<rect x="890" y="777" width="85" height="83.5" rx="13" fill="#ececec"/>
<g fill="none" stroke="#131722" stroke-width="2.4">
<rect x="919.5" y="802" width="10" height="32.5"/><line x1="924.5" y1="793" x2="924.5" y2="802"/><line x1="924.5" y1="834.5" x2="924.5" y2="843.5"/>
<rect x="940" y="810" width="10" height="17.5"/><line x1="945" y1="801" x2="945" y2="810"/><line x1="945" y1="827.5" x2="945" y2="835"/>
</g>
<!-- area icon -->
<defs><pattern id="hatch" width="3" height="3" patternUnits="userSpaceOnUse"><rect width="3" height="3" fill="#b0b0b0"/><rect width="1.5" height="1.5" fill="#3a3a3a"/><rect x="1.5" y="1.5" width="1.5" height="1.5" fill="#3a3a3a"/></pattern></defs>
<path d="M998 838 L1019.5 817 L1032 829 L1056 806 L1056 838 Z" fill="url(#hatch)"/>
<polyline points="997,827 1019,806 1031.5,818 1056,795" fill="none" stroke="#131722" stroke-width="2.6"/>
<!-- indicators icon -->
<g fill="none" stroke="#2a2a2a" stroke-width="2.6" stroke-linejoin="round">
<polyline points="1188,812.5 1201,799.5 1211,808.5 1230,796"/>
<rect x="1188.5" y="829" width="10.5" height="12"/><rect x="1199" y="821.5" width="11" height="19.5"/><rect x="1210" y="829" width="10" height="12"/><rect x="1220" y="814" width="10" height="27"/>
</g>
<!-- camera -->
<g fill="none" stroke="#2a2a2a" stroke-width="2.6" stroke-linejoin="round">
<path d="M1951 801.5 H1962 Q1964 801.5 1965 799 Q1966.5 796 1969 796 H1978 Q1980.5 796 1982 799 Q1983 801.5 1985 801.5 H1995 Q1999 801.5 1999 805.5 V833.5 Q1999 837.5 1995 837.5 H1951 Q1947 837.5 1947 833.5 V805.5 Q1947 801.5 1951 801.5 Z"/>
<circle cx="1973" cy="819.5" r="10.5"/>
</g>
<!-- EU flag -->
<circle cx="78.8" cy="917.8" r="14.5" fill="#2d62a8"/>
<g fill="#e8d66a">
<circle cx="78.8" cy="908" r="1.3"/><circle cx="83.7" cy="909.3" r="1.3"/><circle cx="87.3" cy="912.9" r="1.3"/><circle cx="88.6" cy="917.8" r="1.3"/><circle cx="87.3" cy="922.7" r="1.3"/><circle cx="83.7" cy="926.3" r="1.3"/><circle cx="78.8" cy="927.6" r="1.3"/><circle cx="73.9" cy="926.3" r="1.3"/><circle cx="70.3" cy="922.7" r="1.3"/><circle cx="69" cy="917.8" r="1.3"/><circle cx="70.3" cy="912.9" r="1.3"/><circle cx="73.9" cy="909.3" r="1.3"/>
</g>
<path d="M91 902.5 L108 902.5 L99 916 Z" fill="#dd5060"/>
<!-- pill -->
<path d="M724 888 H752.5 V931 H724 Q702 931 702 909.5 Q702 888 724 888 Z" fill="#dcefeb"/>
<path d="M752.5 888 H779 Q800.7 888 800.7 909.5 Q800.7 931 779 931 H752.5 Z" fill="#fbe9ea"/>
<circle cx="730.3" cy="910" r="10" fill="#2f5e5a"/>
<g fill="none" stroke="#d8323f" stroke-width="2.6" stroke-linecap="round">
<path d="M765 906 Q769.5 901 774.5 905 Q779.5 909 784 904"/>
<path d="M765 916 Q769.5 911 774.5 915 Q779.5 919 784 914"/>
</g>
<!-- collapse btn -->
<rect x="64.5" y="1131.2" width="68.5" height="49" rx="5" fill="#fff" stroke="#e2e2e2" stroke-width="2"/>
<polyline points="88,1159.5 97.5,1150.5 107,1159.5" fill="none" stroke="#131722" stroke-width="3"/>
<!-- price tags -->
<rect x="1858.4" y="1364.7" width="154.6" height="39.7" rx="4" fill="#3d7fa6"/>
<rect x="1858.4" y="1408.7" width="154.6" height="41.9" rx="4" fill="#139b7d"/>
<rect x="1858.4" y="1471" width="154.6" height="40.8" rx="4" fill="#3d7fa6"/>
<rect x="1857.7" y="1792" width="49" height="41.8" rx="4" fill="#3e9e91"/>
<!-- settings hex -->
<g fill="none" stroke="#131722" stroke-width="2.6" stroke-linejoin="round">
<path d="M1932.5 1854.5 H1951 L1960 1870.5 L1951 1886.5 H1932.5 L1923.5 1870.5 Z"/>
<circle cx="1941.7" cy="1870.5" r="5.2"/>
</g>
<!-- tradingview badge -->
<rect x="72.3" y="1712.3" width="323.1" height="82.7" rx="41.3" fill="#ffffff"/>
<path d="M89 1740.5 H111 V1768.7 H100 V1751 H89 Z" fill="#0b0b0e"/>
<circle cx="119.5" cy="1746" r="4" fill="#0b0b0e"/>
<path d="M127 1740.5 H141.5 L131 1768.7 H116.5 Z" fill="#0b0b0e"/>

</svg>
<div class="t" id="t_akt" style="left:99.60px;top:42.27px;font-size:39.24px;line-height:39.24px;font-weight:700;color:#4b4b4b;transform:scaleX(0.8316);transform-origin:0 0;">Aktualny kurs Euro Forex (EUR PLN):</div>
<div class="t" id="t_time" style="left:98.67px;top:98.93px;font-size:31.98px;line-height:31.98px;font-weight:400;color:#9a9a9a;transform:scaleX(0.9286);transform-origin:0 0;">z 10:54:29 16-04-2026</div>
<div class="t" id="t_price" style="left:100.01px;top:166.74px;font-size:83.58px;line-height:83.58px;font-weight:700;color:#0e0e10;transform:scaleX(0.9894);transform-origin:0 0;">4,2412 zł</div>
<div class="t" id="t_live" style="left:155.04px;top:264.88px;font-size:24.71px;line-height:24.71px;font-weight:700;color:#c41e30;transform:scaleX(0.9617);transform-origin:0 0;">NA ŻYWO</div>
<div class="t" id="t_nbp" style="left:1312.87px;top:44.67px;font-size:39.24px;line-height:39.24px;font-weight:700;color:#4b4b4b;transform:scaleX(0.8349);transform-origin:0 0;">Średni kurs NBP:</div>
<div class="t" id="t_nbpv" style="left:1313.70px;top:105.84px;font-size:40.70px;line-height:40.70px;font-weight:400;color:#565656;transform:scaleX(0.9588);transform-origin:0 0;">4,2370 zł</div>
<div class="t" id="t_za" style="left:1312.80px;top:187.00px;font-size:37.79px;line-height:37.79px;font-weight:700;color:#4b4b4b;transform:scaleX(0.8957);transform-origin:0 0;">Za 100 PLN kupisz:</div>
<div class="t" id="t_zav" style="left:1311.80px;top:247.66px;font-size:39.97px;line-height:39.97px;font-weight:400;color:#565656;transform:scaleX(0.9481);transform-origin:0 0;">23,5782 EUR</div>
<div class="t" id="s_l1_0" style="left:98.11px;top:380.36px;font-size:30.52px;line-height:30.52px;font-weight:700;color:#4b4b4b;transform:scaleX(0.9456);transform-origin:0 0;">Historyczne maksimum:</div>
<div class="t" id="s_v1_0" style="left:99.07px;top:425.49px;font-size:37.21px;line-height:37.21px;font-weight:400;color:#565656;transform:scaleX(0.9266);transform-origin:0 0;">5,0003 PLN</div>
<div class="t" id="s_l2_0" style="left:98.11px;top:495.16px;font-size:30.52px;line-height:30.52px;font-weight:700;color:#4b4b4b;transform:scaleX(0.9440);transform-origin:0 0;">Historyczne minimum:</div>
<div class="t" id="s_v2_0" style="left:98.14px;top:542.49px;font-size:37.21px;line-height:37.21px;font-weight:400;color:#565656;transform:scaleX(0.9315);transform-origin:0 0;">1,9984 PLN</div>
<div class="t" id="s_l1_1" style="left:588.12px;top:380.36px;font-size:30.52px;line-height:30.52px;font-weight:700;color:#4b4b4b;transform:scaleX(0.9390);transform-origin:0 0;">Rok wystąpienia ATH:</div>
<div class="t" id="s_v1_1" style="left:589.03px;top:425.49px;font-size:37.21px;line-height:37.21px;font-weight:400;color:#565656;transform:scaleX(0.9741);transform-origin:0 0;">2022</div>
<div class="t" id="s_l2_1" style="left:588.13px;top:495.16px;font-size:30.52px;line-height:30.52px;font-weight:700;color:#4b4b4b;transform:scaleX(0.9352);transform-origin:0 0;">Rok wystąpienia minimum:</div>
<div class="t" id="s_v2_1" style="left:588.06px;top:542.49px;font-size:37.21px;line-height:37.21px;font-weight:400;color:#565656;transform:scaleX(0.9691);transform-origin:0 0;">1993</div>
<div class="t" id="s_l1_2" style="left:1077.65px;top:380.36px;font-size:30.52px;line-height:30.52px;font-weight:700;color:#4b4b4b;transform:scaleX(0.9763);transform-origin:0 0;">Maksimum 2026 r.:</div>
<div class="t" id="s_v1_2" style="left:1079.60px;top:425.49px;font-size:37.21px;line-height:37.21px;font-weight:400;color:#565656;transform:scaleX(0.9213);transform-origin:0 0;">4,3060 PLN</div>
<div class="t" id="s_l2_2" style="left:1078.66px;top:495.16px;font-size:30.52px;line-height:30.52px;font-weight:700;color:#4b4b4b;transform:scaleX(0.9395);transform-origin:0 0;">Cena sprzedaży w kantorze:</div>
<div class="t" id="s_v2_2" style="left:1079.60px;top:542.49px;font-size:37.21px;line-height:37.21px;font-weight:400;color:#565656;transform:scaleX(0.9213);transform-origin:0 0;">4,2562 PLN</div>
<div class="t" id="s_l1_3" style="left:1567.55px;top:380.36px;font-size:30.52px;line-height:30.52px;font-weight:700;color:#4b4b4b;transform:scaleX(0.9756);transform-origin:0 0;">Minimum 2026 r.:</div>
<div class="t" id="s_v1_3" style="left:1569.50px;top:425.49px;font-size:37.21px;line-height:37.21px;font-weight:400;color:#565656;transform:scaleX(0.9255);transform-origin:0 0;">4,1943 PLN</div>
<div class="t" id="s_l2_3" style="left:1568.56px;top:495.16px;font-size:30.52px;line-height:30.52px;font-weight:700;color:#4b4b4b;transform:scaleX(0.9369);transform-origin:0 0;">Cena kupna w kantorze:</div>
<div class="t" id="s_v2_3" style="left:1569.50px;top:542.49px;font-size:37.21px;line-height:37.21px;font-weight:400;color:#565656;transform:scaleX(0.9255);transform-origin:0 0;">4,2262 PLN</div>
<div class="t" id="c1" style="left:39.07px;top:670.31px;font-size:32.70px;line-height:32.70px;font-weight:700;color:#4b4b4b;transform:scaleX(0.9296);transform-origin:0 0;">Od wczoraj:</div>
<div class="t" id="c1v" style="left:218.98px;top:670.31px;font-size:32.70px;line-height:32.70px;font-weight:700;color:#4f9a2d;transform:scaleX(1.0163);transform-origin:0 0;">+0.006 zł</div>
<div class="t" id="c1p" style="left:366.09px;top:670.31px;font-size:32.70px;line-height:32.70px;font-weight:400;color:#adadad;font-style:italic;transform:scaleX(0.9536);transform-origin:0 0;">+0.142%</div>
<div class="t" id="c2" style="left:549.55px;top:670.31px;font-size:32.70px;line-height:32.70px;font-weight:700;color:#4b4b4b;transform:scaleX(0.9532);transform-origin:0 0;">Ostatni tydzień:</div>
<div class="t" id="c2v" style="left:788.95px;top:670.31px;font-size:32.70px;line-height:32.70px;font-weight:700;color:#c01f2f;transform:scaleX(1.0465);transform-origin:0 0;">-0.0069 zł</div>
<div class="t" id="c2p" style="left:953.06px;top:670.31px;font-size:32.70px;line-height:32.70px;font-weight:400;color:#adadad;font-style:italic;transform:scaleX(0.9358);transform-origin:0 0;">-0.162%</div>
<div class="t" id="c3" style="left:1127.05px;top:670.31px;font-size:32.70px;line-height:32.70px;font-weight:700;color:#4b4b4b;transform:scaleX(0.9492);transform-origin:0 0;">Ostatni miesiąc:</div>
<div class="t" id="c3v" style="left:1373.96px;top:670.31px;font-size:32.70px;line-height:32.70px;font-weight:700;color:#c01f2f;transform:scaleX(1.0437);transform-origin:0 0;">-0.0269 zł</div>
<div class="t" id="c3p" style="left:1536.75px;top:670.31px;font-size:32.70px;line-height:32.70px;font-weight:400;color:#adadad;font-style:italic;transform:scaleX(0.9467);transform-origin:0 0;">-0.630%</div>
<div class="t" id="tb_sym" style="left:115.88px;top:800.85px;font-size:35.61px;line-height:35.61px;font-weight:400;-webkit-text-stroke:1.25px #131722;color:#131722;transform:scaleX(0.9088);transform-origin:0 0;">EURPLN</div>
<div class="t" id="tb_1m" style="left:426.04px;top:799.63px;font-size:36.34px;line-height:36.34px;font-weight:400;color:#131722;transform:scaleX(0.9826);transform-origin:0 0;">1m</div>
<div class="t" id="tb_30m" style="left:504.65px;top:799.63px;font-size:36.34px;line-height:36.34px;font-weight:400;color:#131722;transform:scaleX(0.9554);transform-origin:0 0;">30m</div>
<div class="t" id="tb_1h" style="left:600.01px;top:799.63px;font-size:36.34px;line-height:36.34px;font-weight:400;color:#131722;transform:scaleX(0.9944);transform-origin:0 0;">1h</div>
<div class="t" id="tb_D" style="left:668.85px;top:799.63px;font-size:36.34px;line-height:36.34px;font-weight:400;color:#131722;transform:scaleX(0.8739);transform-origin:0 0;">D</div>
<div class="t" id="tb_ind" style="left:1254.00px;top:799.62px;font-size:37.06px;line-height:37.06px;font-weight:400;color:#131722;transform:scaleX(0.9271);transform-origin:0 0;">Wskaźniki</div>
<div class="t" id="lg_t1" style="left:115.87px;top:892.16px;font-size:39.97px;line-height:39.97px;font-weight:400;color:#131722;transform:scaleX(0.8780);transform-origin:0 0;">EURO</div>
<div class="t" id="lg_t2" style="left:231.00px;top:892.16px;font-size:39.97px;line-height:39.97px;font-weight:400;color:#131722;">/</div>
<div class="t" id="lg_t3" style="left:260.74px;top:892.16px;font-size:39.97px;line-height:39.97px;font-weight:400;color:#131722;transform:scaleX(0.8853);transform-origin:0 0;">POLISH</div>
<div class="t" id="lg_t4" style="left:402.41px;top:892.16px;font-size:39.97px;line-height:39.97px;font-weight:400;color:#131722;transform:scaleX(0.8927);transform-origin:0 0;">ZLOTY</div>
<div class="t" id="lg_t5" style="left:523.78px;top:892.16px;font-size:39.97px;line-height:39.97px;font-weight:400;color:#131722;transform:scaleX(1.2800);transform-origin:0 0;">·</div>
<div class="t" id="lg_t6" style="left:548.84px;top:892.16px;font-size:39.97px;line-height:39.97px;font-weight:400;color:#131722;transform:scaleX(0.8544);transform-origin:0 0;">1D</div>
<div class="t" id="lg_t7" style="left:601.72px;top:892.16px;font-size:39.97px;line-height:39.97px;font-weight:400;color:#131722;transform:scaleX(1.1200);transform-origin:0 0;">·</div>
<div class="t" id="lg_t8" style="left:624.42px;top:892.16px;font-size:39.97px;line-height:39.97px;font-weight:400;color:#131722;transform:scaleX(0.8585);transform-origin:0 0;">ICE</div>
<div class="t" id="lg_O" style="left:823.13px;top:893.93px;font-size:31.98px;line-height:31.98px;font-weight:400;color:#131722;transform:scaleX(0.8696);transform-origin:0 0;">O</div>
<div class="t" id="lg_Ov" style="left:848.00px;top:893.93px;font-size:31.98px;line-height:31.98px;font-weight:400;color:#2e9c8c;transform:scaleX(0.9958);transform-origin:0 0;">4,230300</div>
<div class="t" id="lg_H" style="left:995.21px;top:893.93px;font-size:31.98px;line-height:31.98px;font-weight:400;color:#131722;transform:scaleX(0.8947);transform-origin:0 0;">H</div>
<div class="t" id="lg_Hv" style="left:1017.00px;top:893.93px;font-size:31.98px;line-height:31.98px;font-weight:400;color:#2e9c8c;transform:scaleX(0.9958);transform-origin:0 0;">4,241600</div>
<div class="t" id="lg_L" style="left:1166.57px;top:893.93px;font-size:31.98px;line-height:31.98px;font-weight:400;color:#131722;transform:scaleX(0.9667);transform-origin:0 0;">L</div>
<div class="t" id="lg_Lv" style="left:1186.60px;top:893.93px;font-size:31.98px;line-height:31.98px;font-weight:400;color:#2e9c8c;transform:scaleX(0.9867);transform-origin:0 0;">4,230300</div>
<div class="t" id="lg_C" style="left:1333.67px;top:893.93px;font-size:31.98px;line-height:31.98px;font-weight:400;color:#131722;transform:scaleX(0.8333);transform-origin:0 0;">C</div>
<div class="t" id="lg_Cv" style="left:1356.70px;top:893.93px;font-size:31.98px;line-height:31.98px;font-weight:400;color:#2e9c8c;transform:scaleX(0.9943);transform-origin:0 0;">4,240800</div>
<div class="t" id="lg_chg" style="left:1504.03px;top:893.93px;font-size:31.98px;line-height:31.98px;font-weight:400;color:#2e9c8c;transform:scaleX(0.9721);transform-origin:0 0;">+0,009100 (+0,22%)</div>
<div class="t" id="lg_vol" style="left:63.00px;top:955.54px;font-size:31.25px;line-height:31.25px;font-weight:400;color:#2a2e39;transform:scaleX(1.0220);transform-origin:0 0;">Wolumen</div>
<div class="t" id="lg_volv" style="left:217.00px;top:955.54px;font-size:31.25px;line-height:31.25px;font-weight:400;color:#52b6aa;">0</div>
<div class="t" id="lg_ma7" style="left:60.84px;top:1017.16px;font-size:30.52px;line-height:30.52px;font-weight:400;color:#2a2e39;transform:scaleX(0.9298);transform-origin:0 0;">MA</div>
<div class="t" id="lg_ma7b" style="left:110.94px;top:1017.16px;font-size:30.52px;line-height:30.52px;font-weight:400;color:#707070;transform:scaleX(1.0558);transform-origin:0 0;">7 close</div>
<div class="t" id="lg_ma7v" style="left:235.60px;top:1017.16px;font-size:30.52px;line-height:30.52px;font-weight:400;color:#3a8e8c;transform:scaleX(1.0324);transform-origin:0 0;">4,243307</div>
<div class="t" id="lg_ma100" style="left:60.84px;top:1077.46px;font-size:30.52px;line-height:30.52px;font-weight:400;color:#2a2e39;transform:scaleX(0.9298);transform-origin:0 0;">MA</div>
<div class="t" id="lg_ma100b" style="left:109.89px;top:1077.46px;font-size:30.52px;line-height:30.52px;font-weight:400;color:#707070;transform:scaleX(1.0575);transform-origin:0 0;">100 close</div>
<div class="t" id="lg_ma100v" style="left:270.00px;top:1077.46px;font-size:30.52px;line-height:30.52px;font-weight:400;color:#3a8e8c;transform:scaleX(1.0253);transform-origin:0 0;">4,231599</div>
<div class="t" id="ax_0" style="left:1876.50px;top:866.76px;font-size:30.52px;line-height:30.52px;font-weight:400;color:#26262b;transform:scaleX(0.9675);transform-origin:0 0;">4,320000</div>
<div class="t" id="ax_1" style="left:1876.50px;top:1004.26px;font-size:30.52px;line-height:30.52px;font-weight:400;color:#26262b;transform:scaleX(0.9675);transform-origin:0 0;">4,300000</div>
<div class="t" id="ax_2" style="left:1876.50px;top:1141.76px;font-size:30.52px;line-height:30.52px;font-weight:400;color:#26262b;transform:scaleX(0.9675);transform-origin:0 0;">4,280000</div>
<div class="t" id="ax_3" style="left:1876.50px;top:1279.26px;font-size:30.52px;line-height:30.52px;font-weight:400;color:#26262b;transform:scaleX(0.9675);transform-origin:0 0;">4,260000</div>
<div class="t" id="ax_5" style="left:1876.50px;top:1554.26px;font-size:30.52px;line-height:30.52px;font-weight:400;color:#26262b;transform:scaleX(0.9675);transform-origin:0 0;">4,220000</div>
<div class="t" id="ax_6" style="left:1876.50px;top:1691.76px;font-size:30.52px;line-height:30.52px;font-weight:400;color:#26262b;transform:scaleX(0.9675);transform-origin:0 0;">4,200000</div>
<div class="t" id="tg1" style="left:1877.70px;top:1370.16px;font-size:30.52px;line-height:30.52px;font-weight:400;color:#eef6f3;transform:scaleX(0.9762);transform-origin:0 0;">4,243307</div>
<div class="t" id="tg2" style="left:1877.70px;top:1414.36px;font-size:30.52px;line-height:30.52px;font-weight:400;color:#eef6f3;transform:scaleX(0.9762);transform-origin:0 0;">4,240800</div>
<div class="t" id="tg3" style="left:1877.70px;top:1476.16px;font-size:30.52px;line-height:30.52px;font-weight:400;color:#eef6f3;transform:scaleX(0.9762);transform-origin:0 0;">4,231599</div>
<div class="t" id="tg4" style="left:1871.93px;top:1797.16px;font-size:30.52px;line-height:30.52px;font-weight:400;color:#eef6f3;transform:scaleX(1.0667);transform-origin:0 0;">0</div>
<div class="t" id="tx_2026" style="left:376.70px;top:1854.06px;font-size:31.10px;line-height:31.10px;font-weight:700;color:#131722;transform:scaleX(1.0003);transform-origin:0 0;">2026</div>
<div class="t" id="tx_lut" style="left:760.50px;top:1854.06px;font-size:31.10px;line-height:31.10px;font-weight:400;color:#26262b;transform:scaleX(0.9979);transform-origin:0 0;">Lut</div>
<div class="t" id="tx_mar" style="left:1094.58px;top:1854.06px;font-size:31.10px;line-height:31.10px;font-weight:400;color:#26262b;transform:scaleX(0.9591);transform-origin:0 0;">Mar</div>
<div class="t" id="tx_kwi" style="left:1468.56px;top:1854.06px;font-size:31.10px;line-height:31.10px;font-weight:400;color:#26262b;transform:scaleX(0.9698);transform-origin:0 0;">Kwi</div>
<div class="t" id="tv_text" style="left:155.00px;top:1734.57px;font-size:39.24px;line-height:39.24px;font-weight:400;-webkit-text-stroke:1.37px #0b0b0e;color:#0b0b0e;transform:scaleX(1.0246);transform-origin:0 0;">TradingView</div>
</body></html>
